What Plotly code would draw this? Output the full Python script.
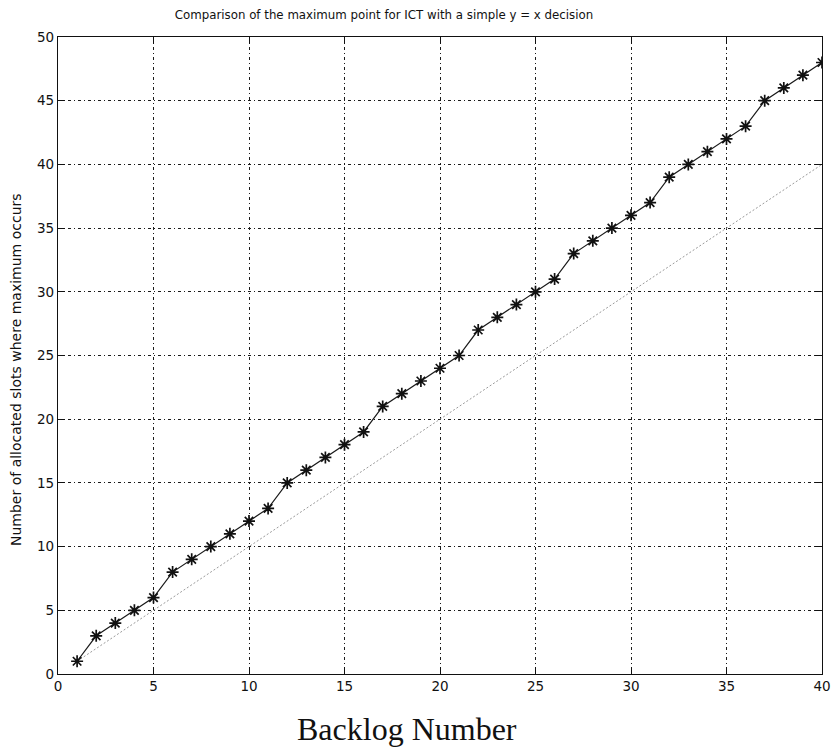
import plotly.graph_objects as go

backlog = list(range(1, 41))
max_point = [1, 3, 4, 5, 6, 8, 9, 10, 11, 12, 13, 15, 16, 17, 18, 19, 21, 22, 23, 24,
             25, 27, 28, 29, 30, 31, 33, 34, 35, 36, 37, 39, 40, 41, 42, 43, 45, 46, 47, 48]
simple_decision = list(range(1, 41))

x_ticks = [0, 5, 10, 15, 20, 25, 30, 35, 40]
y_ticks = [0, 5, 10, 15, 20, 25, 30, 35, 40, 45, 50]

fig = go.Figure()
fig.add_trace(go.Scatter(
    x=backlog, y=simple_decision, mode="lines",
    line=dict(color="#9a9a9a", width=1, dash="2px,2px"), showlegend=False))
fig.add_trace(go.Scatter(
    x=backlog, y=max_point, mode="lines+markers",
    line=dict(color="#1a1a1a", width=1.2),
    marker=dict(symbol="asterisk-open", size=10, color="#111111",
                line=dict(color="#111111", width=1.7)),
    showlegend=False))

axis_common = dict(
    showgrid=True, gridcolor="#1a1a1a", gridwidth=1, griddash="3px,3px,1px,3px",
    showline=True, linecolor="#111111", linewidth=1.3, mirror="ticks",
    ticks="inside", ticklen=7, tickcolor="#111111", automargin=False,
    zeroline=False, tickfont=dict(family="DejaVu Sans, Arial", size=13.5, color="#111111"),
)

fig.update_layout(
    width=833, height=752,
    paper_bgcolor="white", plot_bgcolor="white",
    margin=dict(l=58, r=11, t=37, b=78),
    title=dict(text="Comparison of the maximum point for ICT with a simple y = x decision",
               x=384 / 833, xanchor="center", y=1 - 15 / 752, yanchor="middle",
               font=dict(family="DejaVu Sans, Arial", size=11.8, color="#111111")),
    xaxis=dict(range=[0, 40], tickvals=x_ticks, **axis_common),
    yaxis=dict(range=[0, 50], tickvals=y_ticks, **axis_common),
    annotations=[
        dict(text="Backlog Number", xref="paper", yref="paper",
             x=(407 - 58) / 764, y=-(729 - 674) / 637, xanchor="center", yanchor="middle",
             showarrow=False,
             font=dict(family="Liberation Serif, Times New Roman", size=32, color="#111111")),
        dict(text="Number of allocated slots where maximum occurs", xref="paper", yref="paper",
             x=-(58 - 16) / 764, y=(674 - 370) / 637, xanchor="center", yanchor="middle",
             textangle=-90, showarrow=False,
             font=dict(family="DejaVu Sans, Arial", size=14, color="#111111")),
    ],
)

fig.write_html("out.html")
